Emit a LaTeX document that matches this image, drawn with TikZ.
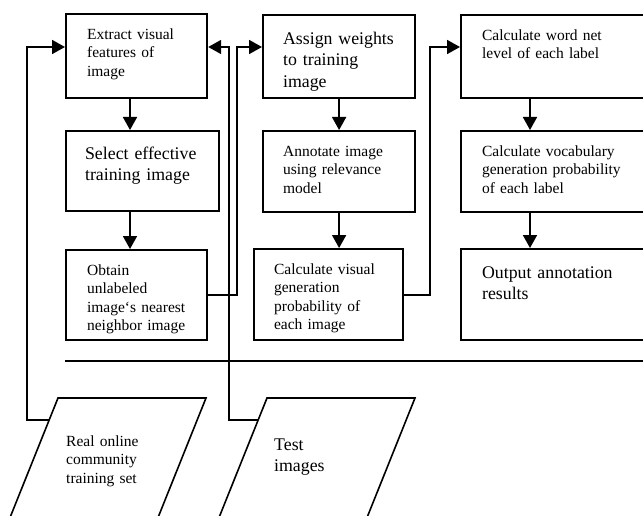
\documentclass[tikz,border=0pt]{standalone}
\usepackage{fontspec}
\setmainfont{Liberation Serif}
\usetikzlibrary{arrows.meta}
\tikzset{
	box/.style={draw, line width=2.2pt, anchor=north west, align=left, inner xsep=21pt, inner ysep=0pt},
	smalltxt/.style={font=\fontsize{15.5}{18.6}\selectfont},
	bigtxt/.style={font=\fontsize{17.8}{21.5}\selectfont},
	arr/.style={line width=1.8pt, -{Triangle[length=13pt,width=14pt]}},
	wire/.style={line width=1.8pt},
	datain/.style={line width=1.6pt, line join=miter}
}

\begin{document}
\begin{tikzpicture}[x=1pt, y=-1pt]
			%%%%% START %%%%%
			\path[use as bounding box] (0,0) rectangle (643,516);
			\clip (0,0) rectangle (643,516);
			
			% first column
			\node[box, smalltxt, text width=99pt, text height=25pt, text depth=59pt] (extract) at (65,13) {Extract visual\\features of\\image};
			\node[box, bigtxt, inner xsep=19pt, text width=115pt, text height=28pt, text depth=52pt] (select) at (65,130) {\mbox{Select effective}\\training image};
			\node[box, smalltxt, text width=99pt, text height=25pt, text depth=65pt] (nearest) at (65,249) {Obtain\\unlabeled\\image`s nearest\\neighbor image};
			
			% second column
			\node[box, bigtxt, inner xsep=20pt, text width=112pt, text height=29pt, text depth=54pt] (weights) at (262,14) {Assign weights\\to training\\image};
			\node[box, smalltxt, inner xsep=20pt, text width=112pt, text height=25pt, text depth=56pt] (annotate) at (262,130) {Annotate image\\using relevance\\model};
			\node[box, smalltxt, inner xsep=20pt, text width=109pt, text height=25pt, text depth=66pt] (visprob) at (253,248) {Calculate visual\\generation\\probability of\\each image};
			
			% third column
			\node[box, smalltxt, text width=163pt, text height=25pt, text depth=58pt] (wordnet) at (460,14) {Calculate word net\\level of each label};
			\node[box, smalltxt, text width=163pt, text height=25pt, text depth=56pt] (vocab) at (460,130) {Calculate vocabulary\\generation probability\\of each label};
			\node[box, bigtxt, text width=163pt, text height=29pt, text depth=62pt] (output) at (460,248) {Output annotation\\results};
			
			\draw[wire] (65,361) -- (660,361);
			
			% input data
			\draw[datain] (58,398) -- (206,398) -- (141,560) -- (-7,560) -- cycle;
			\draw[datain] (267,398) -- (415,398) -- (350,560) -- (202,560) -- cycle;
			\node[smalltxt, anchor=base west, align=left, inner sep=0pt, text width=120pt] (trainset) at (66,446) {Real online\\community\\training set};
			\node[bigtxt, anchor=base west, align=left, inner sep=0pt, text width=100pt] (testset) at (274,450) {Test\\images};
			
			\coordinate (trainin) at (49.4,420);
			\coordinate (testin) at (258,420);
			\coordinate (lch) at (27,47);
			\coordinate (mch) at (229,47);
			\coordinate (nch) at (237,47);
			\coordinate (rch) at (430,47);
			
			% connectors
			\draw[arr] ([xshift=65pt]extract.south west) -- ([xshift=65pt]select.north west);
			\draw[arr] ([xshift=65pt]select.south west) -- ([xshift=65pt]nearest.north west);
			\draw[arr] (weights.south) -- (annotate.north);
			\draw[arr] (annotate.south) -- (annotate.south |- visprob.north);
			\draw[arr] ([xshift=70pt]wordnet.south west) -- ([xshift=70pt]vocab.north west);
			\draw[arr] ([xshift=70pt]vocab.south west) -- ([xshift=70pt]output.north west);
			
			\draw[arr] (trainin) -| (lch) -- (extract.west |- lch);
			\draw[arr] (testin) -| (mch) -- (extract.east |- mch);
			\draw[arr] (nearest.east) -| (nch) -- (weights.west |- nch);
			\draw[arr] (visprob.east) -| (rch) -- (wordnet.west |- rch);
			%%%%% END %%%%%
\end{tikzpicture}
\end{document}
